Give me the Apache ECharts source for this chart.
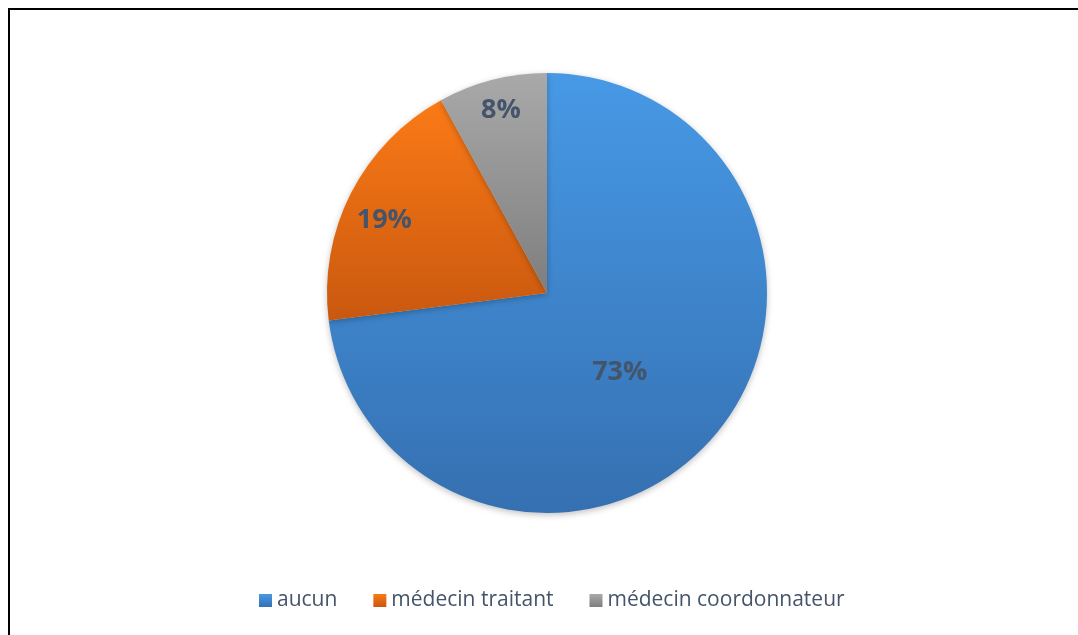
<!DOCTYPE html>
<html><head><meta charset="utf-8">
<script src="https://cdn.jsdelivr.net/npm/echarts@6/dist/echarts.min.js"></script>
<style>html,body{margin:0;padding:0;background:#fff}#frame{position:absolute;left:8px;top:8px;width:1100px;height:700px;border:2px solid #000;box-sizing:border-box}#c{position:absolute;left:0;top:0;width:1078px;height:635px}</style>
</head><body><div id="frame"></div><div id="c"></div>
<script>
const categories = ['aucun', 'médecin traitant', 'médecin coordonnateur'];
const values = [73, 19, 8];
const topColors = ['#4799e6', '#fb7a16', '#a9a9a9'];
const bottomColors = ['#3570b1', '#c9580f', '#7e7e7e'];
const labelOffsets = [[-12, 5], [-62, -21], [-18, -73]];

const chart = echarts.init(document.getElementById('c'));
const grad = (i) => new echarts.graphic.LinearGradient(0, 0, 0, 1, [
  {offset: 0, color: topColors[i]}, {offset: 1, color: bottomColors[i]}]);
chart.setOption({
  animation: false,
  legend: {
    bottom: 19, left: 254,
    itemWidth: 13, itemHeight: 13, itemGap: 36,
    icon: 'rect',
    textStyle: {fontFamily: 'Open Sans', fontSize: 21, color: '#44546a'},
    data: categories
  },
  series: [{
    type: 'pie',
    center: [547, 293],
    radius: [0, 220],
    startAngle: 90,
    clockwise: true,
    label: {
      show: true, position: 'inside',
      formatter: '{d}%',
      fontFamily: 'Open Sans', fontWeight: 'bold', fontSize: 27, color: '#44546a'
    },
    labelLine: {show: false},
    itemStyle: {shadowBlur: 6, shadowColor: 'rgba(0,0,0,0.25)', shadowOffsetY: 2},
    emphasis: {disabled: true},
    data: categories.map((n, i) => ({
      name: n, value: values[i],
      itemStyle: {color: grad(i)},
      label: {offset: labelOffsets[i]}
    }))
  }]
});
</script></body></html>
